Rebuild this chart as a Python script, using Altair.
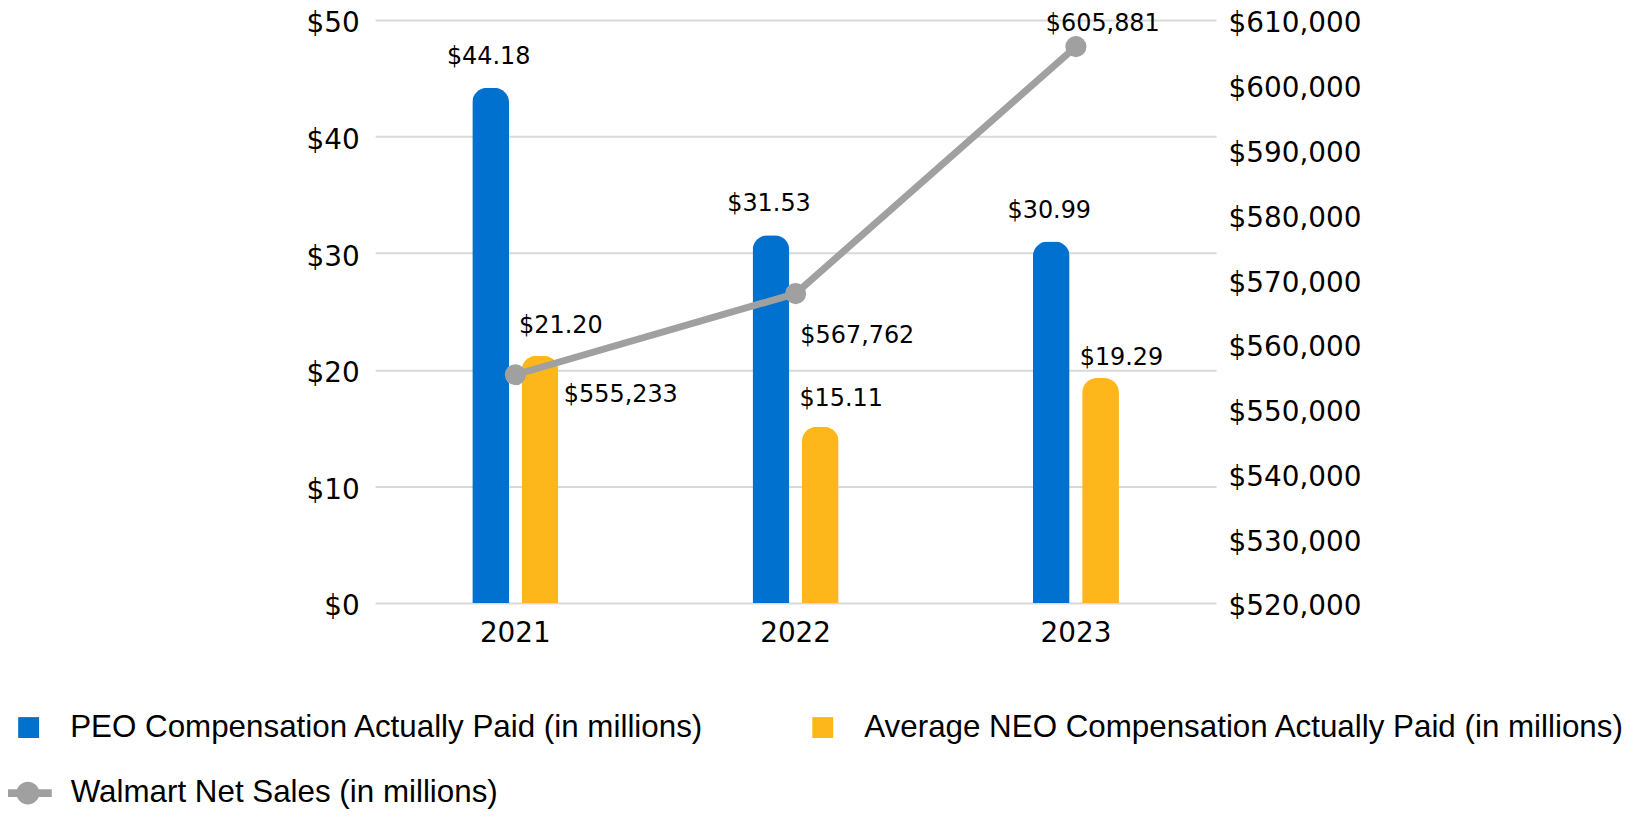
import altair as alt
import pandas as pd

years = ["2021", "2022", "2023"]
peo_comp = [44.18, 31.53, 30.99]
neo_comp = [21.20, 15.11, 19.29]
net_sales = [555233, 567762, 605881]

series_names = [
    "PEO Compensation Actually Paid (in millions)",
    "Average NEO Compensation Actually Paid (in millions)",
    "Walmart Net Sales (in millions)",
]
series_colors = ["#0071CE", "#FDB71A", "#A0A0A0"]
left_ticks = [0, 10, 20, 30, 40, 50]
right_ticks = [520000, 530000, 540000, 550000, 560000, 570000, 580000, 590000, 600000, 610000]

bars_df = pd.DataFrame({
    "year": years * 2,
    "series": [series_names[0]] * 3 + [series_names[1]] * 3,
    "value": peo_comp + neo_comp,
})
line_df = pd.DataFrame({"year": years, "sales": net_sales, "series": [series_names[2]] * 3})

AXFONT = "DejaVu Sans"
TXTFONT = "DejaVu Sans"
LEGFONT = "Liberation Sans"

x_enc = alt.X(
    "year:N",
    scale=alt.Scale(paddingInner=0.341, paddingOuter=0.1705),
    axis=alt.Axis(title=None, labelAngle=0, domain=False, ticks=False,
                  labelFont=AXFONT, labelFontSize=28, labelPadding=17,
                  labelColor="#000000", grid=False),
)
xoff_enc = alt.XOffset(
    "series:N",
    scale=alt.Scale(domain=series_names[:2], paddingInner=0.253, paddingOuter=1),
)
y_left = alt.Y(
    "value:Q",
    scale=alt.Scale(domain=[0, 50], nice=False),
    axis=alt.Axis(values=left_ticks, labelExpr="'$' + datum.value", title=None,
                  domain=False, ticks=False, grid=True, gridColor="#D9D9D9",
                  gridWidth=2, labelFont=AXFONT, labelFontSize=28,
                  labelPadding=16, labelOffset=4, labelColor="#000000",
                  orient="left"),
)

bar_legend = alt.Legend(
    title=None, orient="none", legendX=-364, legendY=695, columns=2,
    columnPadding=103, padding=0, direction="horizontal",
    labelFont=LEGFONT, labelFontSize=31.5, labelColor="#000000", labelLimit=2000,
    labelOffset=26, symbolSize=441, symbolStrokeWidth=0, symbolType="square",
    symbolOpacity=1,
)

bars = alt.Chart(bars_df).mark_bar(
    width=37, cornerRadiusTopLeft=15, cornerRadiusTopRight=15
).encode(
    x=x_enc, xOffset=xoff_enc, y=y_left,
    color=alt.Color("series:N",
                    scale=alt.Scale(domain=series_names[:2], range=series_colors[:2]),
                    legend=bar_legend),
)

bar_text_base = alt.Chart(bars_df).transform_calculate(
    label="'$' + format(datum.value, '.2f')"
)
# label offsets (dx, dy) per bar: blue labels sit above, yellow labels right-above
bar_label_offsets = {
    (series_names[0], "2021"): (-2, -31),
    (series_names[0], "2022"): (-2, -31),
    (series_names[0], "2023"): (-2, -31),
    (series_names[1], "2021"): (21, -30),
    (series_names[1], "2022"): (21, -28),
    (series_names[1], "2023"): (21, -20),
}
bar_labels = []
for (ser, yr), (ddx, ddy) in bar_label_offsets.items():
    bar_labels.append(
        bar_text_base.transform_filter(
            (alt.datum.series == ser) & (alt.datum.year == yr)
        ).mark_text(font=TXTFONT, fontSize=24, color="#000000", baseline="middle",
                    align="center", dx=ddx, dy=ddy).encode(
            x=x_enc, xOffset=xoff_enc, y=y_left, text="label:N")
    )

bar_group = alt.layer(bars, *bar_labels)

y_right = alt.Y(
    "sales:Q",
    scale=alt.Scale(domain=[520000, 610000], nice=False, zero=False),
    axis=alt.Axis(values=right_ticks, format="$,.0f", orient="right", title=None,
                  grid=False, domain=False, ticks=False, labelFont=AXFONT,
                  labelFontSize=28, labelPadding=12, labelOffset=4,
                  labelColor="#000000"),
)

sym_path = ("M-1,-0.16L1,-0.16L1,0.16L-1,0.16Z "
            "M0.48,0A0.48,0.48 0 1 1 -0.48,0A0.48,0.48 0 1 1 0.48,0Z")
line_legend = alt.Legend(
    title=None, orient="none", legendX=-373, legendY=753, padding=0,
    labelFont=LEGFONT, labelFontSize=31.5, labelColor="#000000", labelLimit=2000,
    labelOffset=19, symbolSize=2304, symbolType=sym_path,
    symbolFillColor=series_colors[2], symbolStrokeWidth=0, symbolOpacity=1,
)

line = alt.Chart(line_df).mark_line(color=series_colors[2], strokeWidth=7).encode(
    x=x_enc, y=y_right)
points = alt.Chart(line_df).mark_circle(color=series_colors[2], size=450).encode(
    x=x_enc, y=y_right,
    opacity=alt.Opacity("series:N", scale=alt.Scale(domain=[series_names[2]], range=[1]),
                        legend=line_legend),
)

line_text_base = alt.Chart(line_df).transform_calculate(
    label="'$' + format(datum.sales, ',')"
)
label_offsets = {"2021": (106, 20), "2022": (62, 43), "2023": (27, -23)}
line_labels = []
for yr in years:
    ddx, ddy = label_offsets[yr]
    line_labels.append(
        line_text_base.transform_filter(alt.datum.year == yr).mark_text(
            font=TXTFONT, fontSize=24, color="#000000", baseline="middle",
            align="center", dx=ddx, dy=ddy
        ).encode(x=x_enc, y=y_right, text="label:N")
    )

line_group = alt.layer(line, points, *line_labels)

chart = alt.layer(bar_group, line_group).resolve_scale(y="independent").properties(
    width=845, height=586,
    autosize=alt.AutoSizeParams(type="none"),
    padding={"left": 369, "top": 10, "right": 420, "bottom": 205},
    background="white",
).configure_view(stroke=None)

chart.save("out.html", embed_options={"renderer": "svg", "actions": False})
